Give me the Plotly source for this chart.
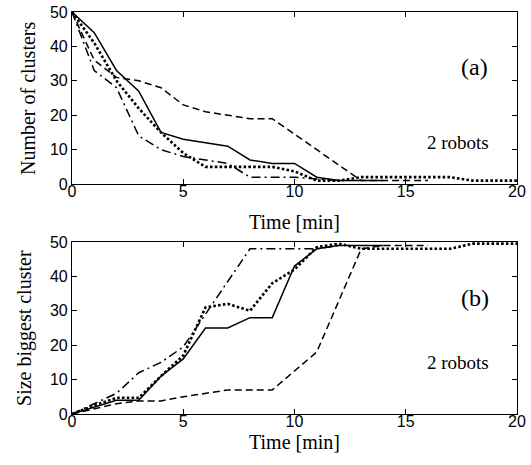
import plotly.graph_objects as go

# ---- data ----
t_solid = [0, 1, 2, 3, 4, 5, 6, 7, 8, 9, 10, 11, 12, 13, 14]
t_dash = [0, 1, 2, 3, 4, 5, 6, 7, 8, 9, 10, 11, 12, 13, 14, 15, 16]
t_dot = list(range(0, 21))
t_dashdot = [0, 1, 2, 3, 4, 5, 6, 7, 8, 9, 10, 11, 12]

# (a) number of clusters
a_solid = [50, 44, 33, 27, 15, 13, 12, 11, 7, 6, 6, 2, 1, 1, 1]
a_dash = [50, 36, 31, 30, 28, 23, 21, 20, 19, 19, 14.5, 10, 5.5, 1, 1, 1, 1]
a_dot = [50, 41, 30, 22, 15, 9, 5, 5, 5, 5, 3.7, 1, 1, 2, 2, 2, 2, 2, 1, 1, 1]
a_dashdot = [50, 33, 28, 14, 10, 8, 7, 6, 2, 2, 2, 1.5, 1]

# (b) size of biggest cluster
b_solid = [0, 2, 4, 4, 11, 16, 25, 25, 28, 28, 43, 48, 49, 49, 49]
b_dash = [0, 1.5, 3, 3.8, 3.8, 5, 6, 7, 7, 7, 12.5, 18, 33, 48, 49, 49, 49]
b_dot = [0, 2.5, 4.7, 4.7, 11, 17, 31, 32, 30, 38, 42, 48.5, 49.5, 48, 48, 48, 48, 48, 49.5, 49.5, 49.5]
b_dashdot = [0, 3, 6, 12, 15, 19.5, 29, 38.5, 48, 48, 48, 48, 49]

x_ticks = [0, 5, 10, 15, 20]
y_ticks = [0, 10, 20, 30, 40, 50]

serif = "Liberation Serif"
sans = "Liberation Sans"

styles = [
    ("solid", dict(color="black", width=1.5, dash="solid")),
    ("dash", dict(color="black", width=1.5, dash="7px,4px")),
    ("dot", dict(color="black", width=2.6, dash="2.6px,2.2px")),
    ("dashdot", dict(color="black", width=1.5, dash="9px,4px,2px,4px")),
]

fig = go.Figure()
series_a = {"solid": (t_solid, a_solid), "dash": (t_dash, a_dash),
            "dot": (t_dot, a_dot), "dashdot": (t_dashdot, a_dashdot)}
series_b = {"solid": (t_solid, b_solid), "dash": (t_dash, b_dash),
            "dot": (t_dot, b_dot), "dashdot": (t_dashdot, b_dashdot)}

for name, ln in styles:
    x, y = series_a[name]
    fig.add_trace(go.Scatter(x=x, y=y, mode="lines", line=ln, xaxis="x", yaxis="y",
                             showlegend=False, hoverinfo="skip"))
for name, ln in styles:
    x, y = series_b[name]
    fig.add_trace(go.Scatter(x=x, y=y, mode="lines", line=ln, xaxis="x2", yaxis="y2",
                             showlegend=False, hoverinfo="skip"))

axis_common = dict(showgrid=False, zeroline=False, showline=True, linecolor="black",
                   linewidth=1.2, mirror="ticks", ticks="inside", ticklen=5,
                   tickcolor="black", tickwidth=1,
                   tickfont=dict(family=sans, size=16, color="black"))

fig.update_layout(
    width=531, height=465,
    margin=dict(l=72, r=14, t=12, b=51, autoexpand=False),
    paper_bgcolor="white", plot_bgcolor="white",
    font=dict(family=serif, color="black"),
    xaxis=dict(domain=[0, 1], range=[0, 20], tickvals=x_ticks, anchor="y",
               ticklabelstandoff=-7, **axis_common),
    yaxis=dict(domain=[0.572, 1], range=[0, 50], tickvals=y_ticks, anchor="x", **axis_common),
    xaxis2=dict(domain=[0, 1], range=[0, 20], tickvals=x_ticks, anchor="y2",
                ticklabelstandoff=-7, **axis_common),
    yaxis2=dict(domain=[0, 0.428], range=[0, 50], tickvals=y_ticks, anchor="x2", **axis_common),
)

title_font = dict(family=serif, size=20, color="black")
# axis titles
fig.add_annotation(x=0.499, y=0.478, xref="paper", yref="paper", text="Time [min]",
                   showarrow=False, font=title_font, xanchor="center", yanchor="middle")
fig.add_annotation(x=0.499, y=-0.0705, xref="paper", yref="paper", text="Time [min]",
                   showarrow=False, font=title_font, xanchor="center", yanchor="middle")
fig.add_annotation(x=-0.0989, y=0.786, xref="paper", yref="paper", text="Number of clusters",
                   showarrow=False, font=title_font, textangle=-90, xanchor="center", yanchor="middle")
fig.add_annotation(x=-0.1056, y=0.214, xref="paper", yref="paper", text="Size biggest cluster",
                   showarrow=False, font=title_font, textangle=-90, xanchor="center", yanchor="middle")

fig.add_annotation(x=18.1, y=34, xref="x", yref="y", text="(a)", showarrow=False,
                   font=dict(family=serif, size=24, color="black"))
fig.add_annotation(x=17.35, y=12.2, xref="x", yref="y", text="2 robots", showarrow=False,
                   font=dict(family=serif, size=19, color="black"))
fig.add_annotation(x=18.1, y=33.7, xref="x2", yref="y2", text="(b)", showarrow=False,
                   font=dict(family=serif, size=24, color="black"))
fig.add_annotation(x=17.35, y=15.1, xref="x2", yref="y2", text="2 robots", showarrow=False,
                   font=dict(family=serif, size=19, color="black"))

fig.write_html("out.html")
